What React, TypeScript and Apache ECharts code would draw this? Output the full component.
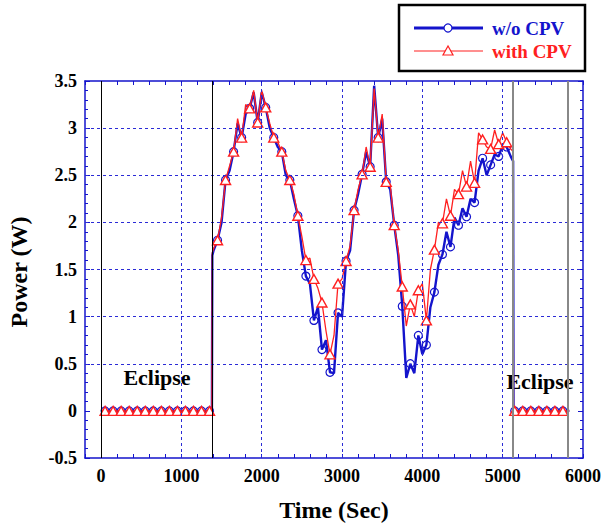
import React, { useEffect, useRef } from "react";
import * as echarts from "echarts";

// ---- data ----
const eclipse1Times = [0, 50, 100, 150, 200, 250, 300, 350, 400, 450, 500, 550, 600, 650, 700, 750, 800, 850, 900, 950, 1000, 1050, 1100, 1150, 1200, 1250, 1300, 1350, 1380];
const eclipse1Power = [0, 0, 0, 0, 0, 0, 0, 0, 0, 0, 0, 0, 0, 0, 0, 0, 0, 0, 0, 0, 0, 0, 0, 0, 0, 0, 0, 0, 0];

const activeTimes = [1385, 1400, 1450, 1500, 1550, 1600, 1650, 1700, 1750, 1800, 1850, 1900, 1950, 2000, 2050, 2100, 2150, 2200, 2250, 2300, 2350, 2400, 2450, 2500, 2550, 2600, 2650, 2700, 2750, 2800, 2850, 2900, 2950, 3000, 3050, 3100, 3150, 3200, 3250, 3300, 3350, 3400, 3450, 3500, 3550, 3600, 3650, 3700, 3750, 3800, 3850, 3900, 3950, 4000, 4050, 4100, 4150, 4200, 4250, 4300, 4350, 4400, 4450, 4500, 4550, 4600, 4650, 4700, 4750, 4800, 4850, 4900, 4950, 5000, 5050, 5100, 5130];

const withoutCPV = [1.65, 1.70, 1.81, 2.00, 2.45, 2.55, 2.75, 3.05, 2.90, 3.15, 3.21, 3.38, 3.06, 3.38, 3.22, 3.00, 2.90, 2.80, 2.75, 2.50, 2.45, 2.25, 2.07, 1.70, 1.43, 1.35, 0.96, 1.10, 0.65, 0.75, 0.41, 0.40, 1.04, 1.00, 1.59, 1.70, 2.13, 2.30, 2.51, 2.75, 2.59, 3.45, 2.90, 3.10, 2.43, 2.35, 1.97, 1.65, 1.11, 0.35, 0.50, 0.40, 0.80, 0.60, 0.70, 1.10, 1.26, 1.55, 1.66, 1.90, 1.74, 2.05, 1.97, 2.15, 2.06, 2.25, 2.21, 2.55, 2.68, 2.50, 2.61, 2.72, 2.70, 2.82, 2.80, 2.70, 2.65];

const withCPV = [1.68, 1.72, 1.81, 2.05, 2.45, 2.60, 2.75, 3.10, 2.90, 3.25, 3.21, 3.40, 3.06, 3.40, 3.22, 3.05, 2.90, 2.85, 2.75, 2.55, 2.45, 2.30, 2.07, 1.85, 1.60, 1.62, 1.40, 1.30, 1.15, 0.85, 0.60, 0.80, 1.35, 1.40, 1.59, 1.75, 2.13, 2.35, 2.51, 2.80, 2.59, 3.42, 2.90, 3.15, 2.43, 2.40, 1.97, 1.70, 1.32, 0.90, 1.13, 1.00, 1.28, 1.35, 0.96, 1.50, 1.71, 2.00, 1.99, 2.25, 2.07, 2.35, 2.30, 2.55, 2.38, 2.65, 2.42, 2.95, 2.88, 2.80, 2.78, 2.98, 2.83, 2.95, 2.85, 2.78, 2.75];

const eclipse2Times = [5135, 5150, 5200, 5250, 5300, 5350, 5400, 5450, 5500, 5550, 5600, 5650, 5700, 5750, 5800, 5830];
const eclipse2Power = [0, 0, 0, 0, 0, 0, 0, 0, 0, 0, 0, 0, 0, 0, 0, 0];

const xTickLabels = [0, 1000, 2000, 3000, 4000, 5000, 6000];
const gridX = [1000, 2000, 3000, 4000, 5000];
const gridY = [0.5, 1, 1.5, 2, 2.5, 3];
const eclipseEdges = [0, 1385];
const eclipseEdgesGray = [5125, 5815];

const BLUE = "#1414cc";
const RED = "#ff2020";
const GRIDBLUE = "#2b2bd6";
const FONT = "'Liberation Serif', 'Times New Roman', serif";

function build(times: number[], vals: number[]) {
  return times.map((t, i) => {
    const item: any = { value: [t, vals[i]] };
    if (t % 100 !== 50) item.symbol = "none";
    return item;
  });
}

export default function App() {
  const ref = useRef<HTMLDivElement>(null);
  useEffect(() => {
    if (!ref.current) return;
    const chart = echarts.init(ref.current, null, { renderer: "svg" });
    const allTimes = [...eclipse1Times, ...activeTimes, ...eclipse2Times];
    const blueVals = [...eclipse1Power, ...withoutCPV, ...eclipse2Power];
    const redVals = [...eclipse1Power, ...withCPV, ...eclipse2Power];

    const xAxisCommon: any = {
      type: "value",
      min: -200,
      max: 6000,
      interval: 200,
      axisLine: { show: true, onZero: false, lineStyle: { color: BLUE, width: 1.5 } },
      axisTick: { show: true, inside: true, length: 4, lineStyle: { color: BLUE } },
      splitLine: { show: false },
    };
    const yAxisCommon: any = {
      type: "value",
      min: -0.5,
      max: 3.5,
      interval: 0.5,
      axisLine: { show: true, onZero: false, lineStyle: { color: BLUE, width: 1.5 } },
      axisTick: { show: true, inside: true, length: 5, lineStyle: { color: BLUE } },
      minorTick: { show: true, splitNumber: 5, length: 3, lineStyle: { color: BLUE } },
      splitLine: { show: false },
    };

    const markData: any[] = [
      ...gridX.map((x) => ({ xAxis: x, lineStyle: { color: GRIDBLUE, width: 1, type: [3, 3] } })),
      ...gridY.map((y) => ({ yAxis: y, lineStyle: { color: GRIDBLUE, width: 1, type: [3, 3] } })),
      ...eclipseEdges.map((x) => ({ xAxis: x, lineStyle: { color: "#000", width: 1, type: "solid" } })),
      ...eclipseEdgesGray.map((x) => ({ xAxis: x, lineStyle: { color: "#888", width: 2, type: "solid" } })),
    ];

    chart.setOption({
      animation: false,
      grid: { left: 85, top: 81, width: 498, height: 377 },
      xAxis: [
        {
          ...xAxisCommon,
          position: "bottom",
          axisLabel: {
            show: true,
            margin: 9,
            color: "#000",
            fontFamily: FONT,
            fontWeight: "bold",
            fontSize: 18,
            formatter: (v: number) => (xTickLabels.indexOf(v) >= 0 ? String(v) : ""),
          },
        },
        { ...xAxisCommon, position: "top", axisLabel: { show: false } },
      ],
      yAxis: [
        {
          ...yAxisCommon,
          position: "left",
          axisLabel: {
            show: true,
            margin: 8,
            color: "#000",
            fontFamily: FONT,
            fontWeight: "bold",
            fontSize: 18,
            formatter: (v: number) => String(Math.round(v * 10) / 10),
          },
        },
        { ...yAxisCommon, position: "right", axisLabel: { show: false } },
      ],
      series: [
        {
          type: "line",
          data: [[-100, -0.4]],
          symbol: "none",
          lineStyle: { opacity: 0 },
          silent: true,
          z: 1,
          markLine: {
            silent: true,
            symbol: ["none", "none"],
            label: { show: false },
            animation: false,
            emphasis: { disabled: true },
            data: markData,
          },
        },
        {
          type: "line",
          name: "w/o CPV",
          data: build(allTimes, blueVals),
          symbol: "circle",
          symbolSize: 8,
          showAllSymbol: true,
          lineStyle: { color: BLUE, width: 2.4 },
          itemStyle: { color: "rgba(255,255,255,0)", borderColor: BLUE, borderWidth: 1.2 },
          emphasis: { disabled: true },
          z: 3,
        },
        {
          type: "line",
          name: "with CPV",
          data: build(allTimes, redVals),
          symbol: "triangle",
          symbolSize: [10, 9],
          showAllSymbol: true,
          lineStyle: { color: RED, width: 1.3 },
          itemStyle: { color: "#fff", borderColor: RED, borderWidth: 1.4 },
          emphasis: { disabled: true },
          z: 4,
        },
      ],
      graphic: [
        { type: "rect", shape: { x: 399, y: 5, width: 186, height: 66 }, style: { fill: "#fff", stroke: "#000", lineWidth: 2.5 } },
        { type: "line", shape: { x1: 414, y1: 28, x2: 483, y2: 28 }, style: { stroke: BLUE, lineWidth: 3 } },
        { type: "circle", shape: { cx: 448, cy: 28, r: 4 }, style: { fill: "#fff", stroke: BLUE, lineWidth: 1.2 } },
        { type: "text", x: 492, y: 28, style: { text: "w/o CPV", fill: BLUE, font: `bold 19px ${FONT}`, verticalAlign: "middle", align: "left" } },
        { type: "line", shape: { x1: 414, y1: 51, x2: 483, y2: 51 }, style: { stroke: RED, lineWidth: 1.2 } },
        { type: "polygon", shape: { points: [[448, 46], [443, 55], [453, 55]] }, style: { fill: "#fff", stroke: RED, lineWidth: 1.2 } },
        { type: "text", x: 492, y: 51, style: { text: "with CPV", fill: RED, font: `bold 19px ${FONT}`, verticalAlign: "middle", align: "left" } },
        { type: "text", x: 157, y: 377, style: { text: "Eclipse", fill: "#000", font: `bold 22px ${FONT}`, verticalAlign: "middle", align: "center" } },
        { type: "text", x: 540, y: 381, style: { text: "Eclipse", fill: "#000", font: `bold 22px ${FONT}`, verticalAlign: "middle", align: "center" } },
        { type: "text", x: 19, y: 272, rotation: Math.PI / 2, style: { text: "Power (W)", fill: "#000", font: `bold 24px ${FONT}`, verticalAlign: "middle", align: "center" } },
        { type: "text", x: 334, y: 510, style: { text: "Time (Sec)", fill: "#000", font: `bold 24px ${FONT}`, verticalAlign: "middle", align: "center" } },
      ],
    });
    return () => chart.dispose();
  }, []);
  return <div ref={ref} style={{ position: "fixed", left: 0, top: 0, width: 605, height: 524, background: "#fff" }} />;
}
